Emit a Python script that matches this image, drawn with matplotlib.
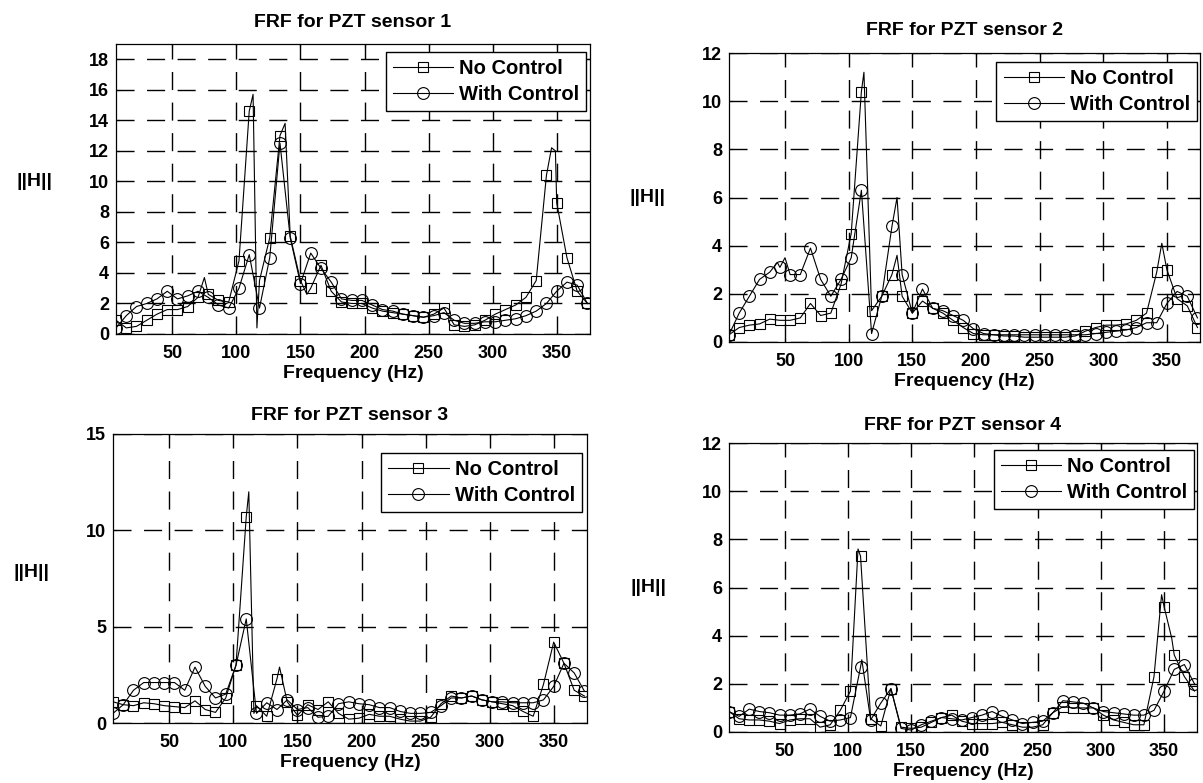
import matplotlib
matplotlib.use('Agg')
import matplotlib.pyplot as plt
import numpy as np

plt.rcParams['font.family'] = ['Liberation Sans', 'DejaVu Sans']
plt.rcParams['font.weight'] = 'bold'

# ---------------- data ----------------
freq = [6, 14, 22, 30, 38, 46, 54, 62, 70, 78, 86, 94, 102, 110, 118, 126, 134, 142,
        150, 158, 166, 174, 182, 190, 198, 206, 214, 222, 230, 238, 246, 254, 262, 270,
        278, 286, 294, 302, 310, 318, 326, 334, 342, 350, 358, 366, 374]

titles = ["FRF for PZT sensor 1", "FRF for PZT sensor 2",
          "FRF for PZT sensor 3", "FRF for PZT sensor 4"]
series_labels = ["No Control", "With Control"]
xticks = [50, 100, 150, 200, 250, 300, 350]
yticks1 = [0, 2, 4, 6, 8, 10, 12, 14, 16, 18]
yticks2 = [0, 2, 4, 6, 8, 10, 12]
yticks3 = [0, 5, 10, 15]
yticks4 = [0, 2, 4, 6, 8, 10, 12]

# Sensor 1
nc1 = [0.9, 0.4, 0.5, 0.9, 1.3, 1.6, 1.6, 1.8, 2.4, 2.6, 2.2, 2.1, 4.8, 14.6, 3.5, 6.3, 13.0, 6.4,
       3.5, 3.0, 4.5, 2.8, 2.1, 2.0, 2.0, 1.7, 1.5, 1.4, 1.3, 1.2, 1.1, 1.3, 1.7, 0.6,
       0.5, 0.6, 0.9, 1.3, 1.6, 1.9, 2.4, 3.5, 10.4, 8.6, 5.0, 2.8, 2.0]
nc1_pk_f = [75, 113, 116, 138, 155, 346, 349]
nc1_pk_v = [3.7, 15.7, 0.4, 13.8, 2.6, 12.2, 12.0]
wc1 = [0.4, 1.2, 1.8, 2.0, 2.3, 2.8, 2.3, 2.5, 2.8, 2.4, 1.9, 1.7, 3.0, 5.2, 1.7, 5.0, 12.5, 6.3,
       3.3, 5.3, 4.3, 3.4, 2.3, 2.2, 2.2, 1.9, 1.6, 1.5, 1.3, 1.2, 1.1, 1.2, 1.4, 0.9,
       0.7, 0.7, 0.8, 0.8, 0.9, 1.0, 1.2, 1.5, 2.0, 2.8, 3.4, 3.2, 2.0]
wc1_pk_f = []
wc1_pk_v = []

# Sensor 2
nc2 = [0.3, 0.6, 0.7, 0.75, 0.95, 0.9, 0.9, 1.0, 1.6, 1.1, 1.2, 2.4, 4.5, 10.4, 1.3, 1.9, 2.8, 1.9,
       1.2, 1.7, 1.4, 1.2, 0.9, 0.6, 0.35, 0.3, 0.3, 0.25, 0.25, 0.2, 0.2, 0.2, 0.2, 0.2,
       0.25, 0.45, 0.6, 0.7, 0.7, 0.75, 0.9, 1.2, 2.9, 3.0, 1.8, 1.5, 0.6]
nc2_pk_f = [112, 138, 346]
nc2_pk_v = [11.2, 3.6, 4.1]
wc2 = [0.3, 1.2, 1.9, 2.6, 2.9, 3.1, 2.8, 2.8, 3.9, 2.6, 1.9, 2.6, 3.5, 6.3, 0.35, 1.9, 4.8, 2.8,
       1.2, 2.2, 1.4, 1.3, 1.1, 0.9, 0.55, 0.35, 0.3, 0.3, 0.3, 0.3, 0.3, 0.3, 0.3, 0.3,
       0.3, 0.3, 0.35, 0.4, 0.45, 0.5, 0.6, 0.8, 0.8, 1.6, 2.1, 1.9, 1.0]
wc2_pk_f = [44, 50, 138]
wc2_pk_v = [3.3, 3.5, 6.0]

# Sensor 3
nc3 = [1.1, 0.95, 0.9, 1.05, 1.0, 0.9, 0.85, 0.8, 1.15, 0.7, 0.55, 1.3, 3.0, 10.7, 0.9, 0.35, 2.3, 1.1,
       0.4, 0.95, 0.7, 1.1, 0.5, 0.2, 0.25, 0.45, 0.35, 0.35, 0.2, 0.1, 0.1, 0.3, 1.0, 1.4,
       1.3, 1.4, 1.2, 1.1, 1.0, 0.9, 0.6, 0.35, 2.0, 4.2, 3.1, 1.7, 1.4]
nc3_pk_f = [112, 116, 136]
nc3_pk_v = [12.0, 0.5, 2.9]
wc3 = [0.5, 0.95, 1.7, 2.1, 2.1, 2.1, 2.1, 1.7, 2.9, 1.9, 1.3, 1.5, 3.0, 5.4, 0.5, 1.05, 0.7, 1.2,
       0.7, 0.8, 0.3, 0.35, 1.0, 1.1, 1.0, 0.95, 0.8, 0.8, 0.6, 0.5, 0.5, 0.55, 0.9, 1.3,
       1.3, 1.4, 1.2, 1.1, 1.1, 1.05, 1.05, 1.05, 1.2, 1.9, 3.1, 2.6, 1.65]
wc3_pk_f = []
wc3_pk_v = []

# Sensor 4
nc4 = [0.85, 0.55, 0.5, 0.5, 0.45, 0.35, 0.5, 0.55, 0.55, 0.2, 0.3, 0.9, 1.7, 7.3, 0.55, 0.25, 1.8, 0.2,
       0.15, 0.2, 0.4, 0.6, 0.7, 0.45, 0.35, 0.35, 0.35, 0.4, 0.3, 0.2, 0.2, 0.3, 0.8, 1.05,
       1.0, 1.0, 1.0, 0.7, 0.5, 0.4, 0.3, 0.3, 2.3, 5.2, 3.2, 2.3, 1.7]
nc4_pk_f = [108, 348, 356]
nc4_pk_v = [7.6, 5.7, 3.9]
wc4 = [0.85, 0.65, 0.95, 0.85, 0.8, 0.7, 0.7, 0.75, 0.95, 0.65, 0.45, 0.5, 0.6, 2.7, 0.5, 1.2, 1.8, 0.15,
       0.08, 0.3, 0.45, 0.6, 0.55, 0.5, 0.6, 0.7, 0.85, 0.65, 0.5, 0.35, 0.4, 0.45, 0.8, 1.3,
       1.25, 1.2, 1.0, 0.85, 0.8, 0.75, 0.7, 0.7, 0.9, 1.7, 2.6, 2.8, 2.0]
wc4_pk_f = [111]
wc4_pk_v = [3.0]

panels = [
    (nc1, nc1_pk_f, nc1_pk_v, wc1, wc1_pk_f, wc1_pk_v, yticks1, 19),
    (nc2, nc2_pk_f, nc2_pk_v, wc2, wc2_pk_f, wc2_pk_v, yticks2, 12),
    (nc3, nc3_pk_f, nc3_pk_v, wc3, wc3_pk_f, wc3_pk_v, yticks3, 15),
    (nc4, nc4_pk_f, nc4_pk_v, wc4, wc4_pk_f, wc4_pk_v, yticks4, 12),
]

# ---------------- layout ----------------
W, H = 1203, 783
fig = plt.figure(figsize=(W / 100, H / 100), dpi=100)
boxes = [(116, 44, 590, 334), (729, 53, 1200, 342), (113, 434, 587, 723), (729, 443, 1197, 732)]
legend_anchor = [(0.992, 0.972), (0.994, 0.969), (0.989, 0.934), (0.994, 0.976)]
ylabel_y = [0.526, 0.50, 0.52, 0.50]
title_pad = [12, 13, 10, 9]


def merged(fm, vm, fx, vx):
    f_all = np.array(list(fm) + list(fx), dtype=float)
    v_all = np.array(list(vm) + list(vx), dtype=float)
    order = np.argsort(f_all, kind='stable')
    mark = [i for i, o in enumerate(order) if o < len(fm)]
    return f_all[order], v_all[order], mark


for k, (box, pdata) in enumerate(zip(boxes, panels)):
    l, t, r, b = box
    ax = fig.add_axes([l / W, 1 - b / H, (r - l) / W, (b - t) / H])
    nc, ncf, ncv, wc, wcf, wcv, yt, ytop = pdata

    fx, vx, mk = merged(freq, nc, ncf, ncv)
    ax.plot(fx, vx, color='k', lw=0.8, marker='s', markevery=mk, ms=7,
            mfc='none', mec='k', mew=0.8, label=series_labels[0])
    fx, vx, mk = merged(freq, wc, wcf, wcv)
    ax.plot(fx, vx, color='k', lw=0.8, marker='o', markevery=mk, ms=8.5,
            mfc='none', mec='k', mew=0.8, label=series_labels[1])

    ax.set_xlim(6, 376)
    ax.set_ylim(0, ytop)
    ax.set_xticks(xticks)
    ax.set_yticks(yt)
    ax.grid(True, color='k', lw=1.0, linestyle=(0, (13, 9)))
    ax.tick_params(direction='in', length=3, width=0.8, top=True, right=True,
                   labelsize=13)
    ax.tick_params(axis='x', pad=8)
    ax.tick_params(axis='y', pad=5)
    for lab in ax.get_xticklabels() + ax.get_yticklabels():
        lab.set_fontweight('bold')
    for s in ax.spines.values():
        s.set_linewidth(0.9)

    ax.set_title(titles[k], fontsize=14, fontweight='bold', pad=title_pad[k])
    ax.set_xlabel('Frequency (Hz)', fontsize=14, fontweight='bold', labelpad=2)
    ax.set_ylabel('||H||', fontsize=14, fontweight='bold', rotation=0, va='center', ha='center')
    ax.yaxis.set_label_coords(-0.172, ylabel_y[k])

    leg = ax.legend(loc='upper right', bbox_to_anchor=legend_anchor[k], borderaxespad=0,
                    frameon=True, fancybox=False, edgecolor='k', framealpha=1,
                    handlelength=3.0, handletextpad=0.3, labelspacing=0.35, borderpad=0.35,
                    prop={'weight': 'bold', 'size': 14.5})
    leg.get_frame().set_linewidth(1.0)

fig.savefig('out.png', dpi=100, facecolor='white')
